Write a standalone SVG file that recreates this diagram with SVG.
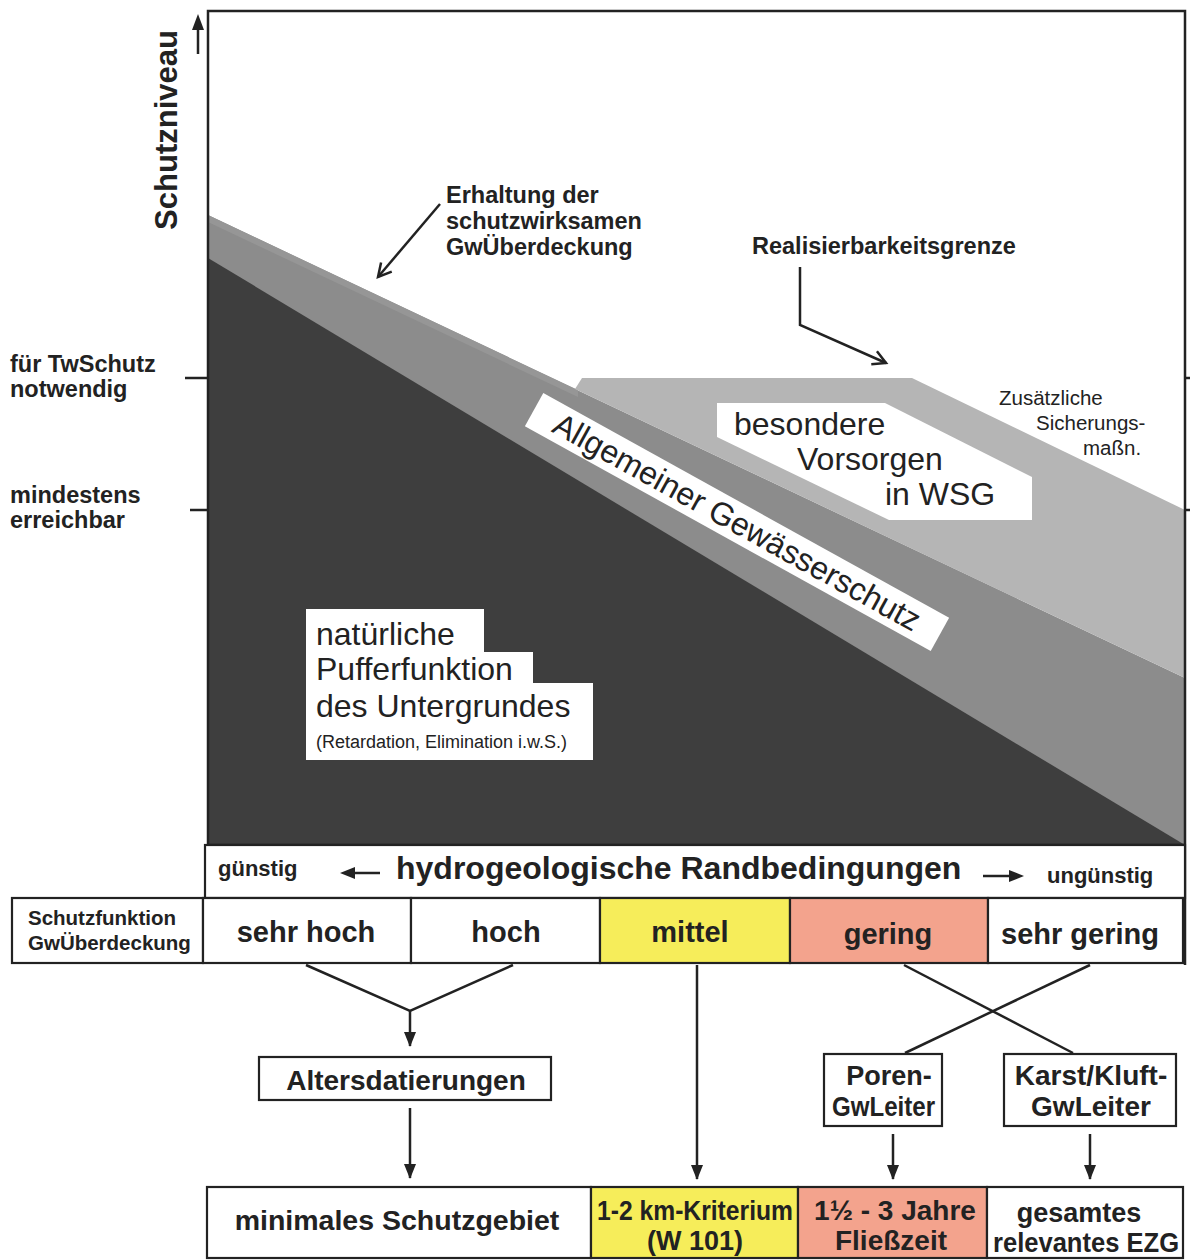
<svg xmlns="http://www.w3.org/2000/svg" width="1190" height="1260" viewBox="0 0 1190 1260">
<defs>
<marker id="ah" markerUnits="userSpaceOnUse" markerWidth="15" markerHeight="12" refX="14" refY="6" orient="auto"><path d="M0,0 L15,6 L0,12 z" fill="#222"/></marker>
<marker id="oh" markerUnits="userSpaceOnUse" markerWidth="18" markerHeight="18" refX="15" refY="9" orient="auto" overflow="visible"><path d="M2,2 L15,9 L2,16" fill="none" stroke="#222" stroke-width="2.5"/></marker>
<style>
text{font-family:"Liberation Sans",Arial,sans-serif;fill:#222}
.b{font-weight:bold}
.ln{stroke:#222;stroke-width:2.5;fill:none}
.cell{stroke:#222;stroke-width:2.2}
.wh{fill:#fff}
.ye{fill:#f6ed5a}
.sa{fill:#f3a38d}
</style>
</defs>
<rect width="1190" height="1260" fill="#fff"/>

<g id="plot">
  <polygon points="208,215 1185,678 1185,845 208,845" fill="#8c8c8c"/>
  <polygon points="208,215 578,390 578,397 208,222" fill="#969696"/>
  <polygon points="582,378 912,378 1185,510 1185,678 575,389" fill="#b5b5b5"/>
  <polygon points="208,258 1185,845 208,845" fill="#3e3e3e"/>
</g>

<g id="frame">
  <path class="ln" d="M208,845 V11 H1185 V965"/>
  <line class="ln" x1="208" y1="845" x2="1185" y2="845"/>
  <line class="ln" x1="185" y1="378" x2="208" y2="378"/>
  <line class="ln" x1="190" y1="510" x2="208" y2="510"/>
  <line class="ln" x1="1185" y1="378" x2="1190" y2="378"/>
  <line class="ln" x1="1185" y1="510" x2="1190" y2="510"/>
  <line x1="198" y1="54" x2="198" y2="28" stroke="#222" stroke-width="2.5"/>
  <polygon points="198,14 192,30 204,30" fill="#222"/>
</g>

<g id="axis-labels">
  <text class="b" font-size="31" text-anchor="middle" transform="translate(177,130) rotate(-90)">Schutzniveau</text>
  <text class="b" font-size="23.5" x="10" y="372">für TwSchutz</text>
  <text class="b" font-size="23.5" x="10" y="397">notwendig</text>
  <text class="b" font-size="23.5" x="10" y="503">mindestens</text>
  <text class="b" font-size="23.5" x="10" y="528">erreichbar</text>
</g>

<g id="erhaltung">
  <text class="b" font-size="23.5" x="446" y="203">Erhaltung der</text>
  <text class="b" font-size="23.5" x="446" y="229">schutzwirksamen</text>
  <text class="b" font-size="23.5" x="446" y="255">GwÜberdeckung</text>
</g>

<g id="realisierbarkeit">
  <text class="b" font-size="23.5" x="752" y="254">Realisierbarkeitsgrenze</text>
</g>

<g id="zusaetzliche">
  <text font-size="20.5" x="999" y="405">Zusätzliche</text>
  <text font-size="20.5" x="1036" y="430">Sicherungs-</text>
  <text font-size="20.5" x="1083" y="455">maßn.</text>
</g>

<g id="besondere">
  <polygon class="wh" points="717,403 885,403 1032,477 1032,520 889,520 717,437"/>
  <text font-size="32" x="734" y="435">besondere</text>
  <text font-size="32" x="797" y="470">Vorsorgen</text>
  <text font-size="32" x="885" y="505">in WSG</text>
</g>

<g id="allgemeiner" transform="translate(737,522) rotate(29)">
  <rect class="wh" x="-232" y="-19" width="464" height="38"/>
  <text font-size="32" x="0" y="11" text-anchor="middle">Allgemeiner Gewässerschutz</text>
</g>

<g id="natuerliche">
  <path class="wh" d="M306,609 H484 V652 H533 V683 H593 V760 H306 Z"/>
  <text font-size="32" x="316" y="645">natürliche</text>
  <text font-size="32" x="316" y="680">Pufferfunktion</text>
  <text font-size="32" x="316" y="717">des Untergrundes</text>
  <text font-size="18" x="316" y="748">(Retardation, Elimination i.w.S.)</text>
</g>

<g id="hydro-row">
  <rect class="wh cell" x="205" y="845" width="980" height="53"/>
  <text class="b" font-size="22" x="218" y="876">günstig</text>
  <line x1="380" y1="873" x2="354" y2="873" stroke="#222" stroke-width="2.5"/>
  <polygon points="340,873 355,867 355,879" fill="#222"/>
  <text class="b" font-size="32" x="396" y="879">hydrogeologische Randbedingungen</text>
  <line x1="983" y1="876" x2="1010" y2="876" stroke="#222" stroke-width="2.5"/>
  <polygon points="1024,876 1009,870 1009,882" fill="#222"/>
  <text class="b" font-size="22" x="1047" y="883">ungünstig</text>
</g>

<g id="schutzfunktion">
  <rect class="wh cell" x="12" y="898" width="191" height="65"/>
  <text class="b" font-size="20.5" x="28" y="925">Schutzfunktion</text>
  <text class="b" font-size="20.5" x="28" y="950">GwÜberdeckung</text>
</g>
<g id="sehr-hoch">
  <rect class="wh cell" x="203" y="898" width="208" height="65"/>
  <text class="b" font-size="29" x="306" y="942" text-anchor="middle">sehr hoch</text>
</g>
<g id="hoch">
  <rect class="wh cell" x="411" y="898" width="189" height="65"/>
  <text class="b" font-size="29" x="506" y="942" text-anchor="middle">hoch</text>
</g>
<g id="mittel">
  <rect class="ye cell" x="600" y="898" width="190" height="65"/>
  <text class="b" font-size="29" x="690" y="942" text-anchor="middle">mittel</text>
</g>
<g id="gering">
  <rect class="sa cell" x="790" y="898" width="198" height="65"/>
  <text class="b" font-size="29" x="888" y="944" text-anchor="middle">gering</text>
</g>
<g id="sehr-gering">
  <rect class="wh cell" x="988" y="898" width="195" height="65"/>
  <text class="b" font-size="29" x="1080" y="944" text-anchor="middle">sehr gering</text>
</g>

<g id="altersdatierungen">
  <rect class="wh cell" x="259" y="1057" width="292" height="43"/>
  <text class="b" font-size="28" x="406" y="1090" text-anchor="middle">Altersdatierungen</text>
</g>
<g id="poren">
  <rect class="wh cell" x="824" y="1054" width="118" height="72"/>
  <text class="b" font-size="27" x="889" y="1085" text-anchor="middle">Poren-</text>
  <text class="b" font-size="27" x="832" y="1116" textLength="103" lengthAdjust="spacingAndGlyphs">GwLeiter</text>
</g>
<g id="karst">
  <rect class="wh cell" x="1004" y="1054" width="172" height="72"/>
  <text class="b" font-size="28" x="1091" y="1085" text-anchor="middle">Karst/Kluft-</text>
  <text class="b" font-size="28" x="1091" y="1116" text-anchor="middle">GwLeiter</text>
</g>

<g id="minimales">
  <rect class="wh cell" x="207" y="1187" width="384" height="71"/>
  <text class="b" font-size="28.5" x="397" y="1230" text-anchor="middle">minimales Schutzgebiet</text>
</g>
<g id="kriterium">
  <rect class="ye cell" x="591" y="1187" width="207" height="71"/>
  <text class="b" font-size="27" x="597" y="1220" textLength="196" lengthAdjust="spacingAndGlyphs">1-2 km-Kriterium</text>
  <text class="b" font-size="27" x="695" y="1250" text-anchor="middle">(W 101)</text>
</g>
<g id="fliesszeit">
  <rect class="sa cell" x="798" y="1187" width="189" height="71"/>
  <text class="b" font-size="28" x="895" y="1220" text-anchor="middle">1½ - 3 Jahre</text>
  <text class="b" font-size="28" x="891" y="1250" text-anchor="middle">Fließzeit</text>
</g>
<g id="ezg">
  <rect class="wh cell" x="987" y="1187" width="196" height="71"/>
  <text class="b" font-size="27" x="1079" y="1222" text-anchor="middle">gesamtes</text>
  <text class="b" font-size="27" x="993" y="1252" textLength="186" lengthAdjust="spacingAndGlyphs">relevantes EZG</text>
</g>

<g id="connectors">
  <line class="ln" x1="440" y1="204" x2="378" y2="277" marker-end="url(#oh)"/>
  <polyline class="ln" points="800,267 800,325 886,363" marker-end="url(#oh)"/>
  <polyline class="ln" points="306,965 410,1011 513,965"/>
  <line class="ln" x1="410" y1="1011" x2="410" y2="1046" marker-end="url(#ah)"/>
  <line class="ln" x1="410" y1="1108" x2="410" y2="1178" marker-end="url(#ah)"/>
  <line class="ln" x1="697" y1="965" x2="697" y2="1179" marker-end="url(#ah)"/>
  <line class="ln" x1="904" y1="965" x2="1073" y2="1053"/>
  <line class="ln" x1="1090" y1="965" x2="905" y2="1053"/>
  <line class="ln" x1="893" y1="1134" x2="893" y2="1179" marker-end="url(#ah)"/>
  <line class="ln" x1="1090" y1="1134" x2="1090" y2="1179" marker-end="url(#ah)"/>
</g>
</svg>
